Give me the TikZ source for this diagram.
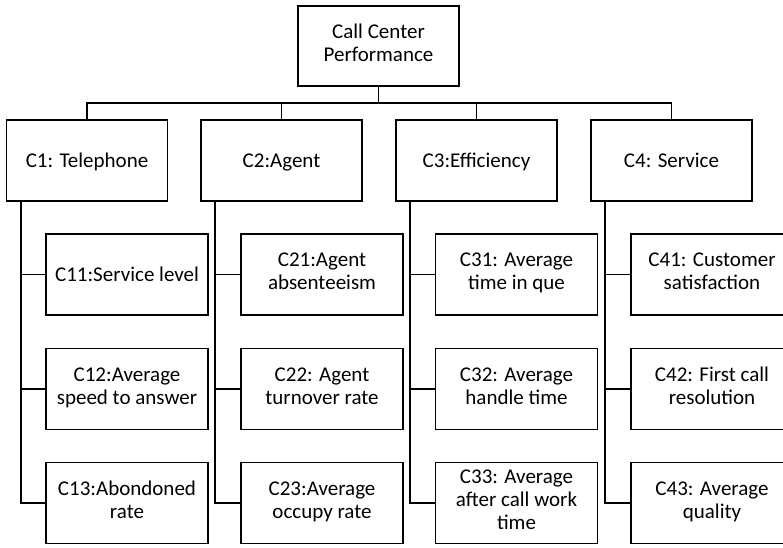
\documentclass[tikz,border=0pt]{standalone}
\usepackage{fontspec}
\setmainfont{Carlito}
\usetikzlibrary{calc}
\newcommand\boxtopstrut{\rule{0pt}{19.5pt}}
\newcommand\boxbotstrut{\rule[-6.5pt]{0pt}{6.5pt}}
\begin{document}
\begin{tikzpicture}[x=1pt,y=-1pt,
  every node/.style={font=\fontsize{21}{23}\selectfont},
  box/.style={draw, line width=1.7pt, rectangle, align=center, inner sep=0pt,
    execute at begin node=\boxtopstrut, execute at end node=\boxbotstrut},
  rootbox/.style={box, minimum width=161pt, minimum height=80pt},
  catbox/.style={box, minimum width=161pt, minimum height=81pt},
  subbox/.style={box, minimum width=162pt, minimum height=81pt},
  link/.style={line width=1.7pt}]
\useasboundingbox (0,0) rectangle (783,547);
\clip (0,0) rectangle (783,547);
\fill[white] (0,0) rectangle (783,547);

% root
\node[rootbox] (root) at (378.5,46) {Call Center\\Performance};

% criteria
\node[catbox] (c1) at (87,160.5)    {C1: Telephone};
\node[catbox] (c2) at (281.5,160.5) {C2:Agent};
\node[catbox] (c3) at (476.5,160.5) {C3:Efficiency};
\node[catbox] (c4) at (671.5,160.5) {C4: Service};

% sub-criteria
\node[subbox] (c11) at (127,274.5) {C11:Service level};
\node[subbox] (c12) at (127,389)   {C12:Average\\speed to answer};
\node[subbox] (c13) at (127,503)   {C13:Abondoned\\rate};

\node[subbox] (c21) at (322,274.5) {C21:Agent\\absenteeism};
\node[subbox] (c22) at (322,389)   {C22: Agent\\turnover rate};
\node[subbox] (c23) at (322,503)   {C23:Average\\occupy rate};

\node[subbox] (c31) at (516.5,274.5) {C31: Average\\time in que};
\node[subbox] (c32) at (516.5,389)   {C32: Average\\handle time};
\node[subbox] (c33) at (516.5,503)   {C33: Average\\after call work\\time};

\node[subbox] (c41) at (712,274.5) {C41: Customer\\satisfaction};
\node[subbox] (c42) at (712,389)   {C42: First call\\resolution};
\node[subbox] (c43) at (712,503)   {C43: Average\\quality};

% bus from root to criteria
\coordinate (bus) at (378.5,103);
\foreach \c in {c1,c2,c3,c4}
  \draw[link] (root.south) -- (root.south |- bus) -| (\c.north);

% trunks from criteria to sub-criteria
\foreach \c in {1,2,3,4}
  \foreach \s in {1,2,3}
    \draw[link] ([xshift=15pt]c\c.south west) |- (c\c\s.west);
\end{tikzpicture}
\end{document}
